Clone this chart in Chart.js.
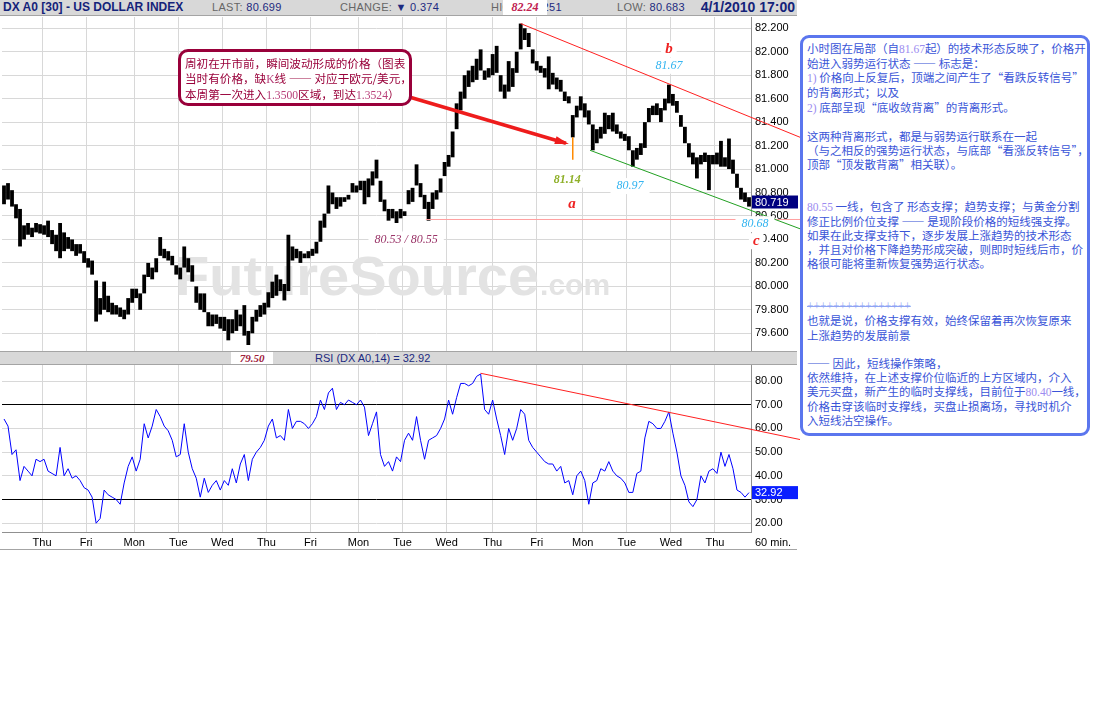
<!DOCTYPE html>
<html lang="zh-CN">
<head>
<meta charset="utf-8">
<title>DX A0 [30] - US DOLLAR INDEX</title>
<script src="https://cdn.jsdelivr.net/npm/chart.js"></script>
<style>
  body { margin: 0; background: #fff; }
  #page { position: relative; width: 1097px; height: 713px; overflow: hidden; font-family: 'Liberation Sans', Arial, sans-serif; }
  #head { position: absolute; left: 0; top: 0; width: 797px; height: 15px; background: #d8d8d8; border-bottom: 1px solid #a4a4a4; }
  #head span { position: absolute; top: 0; line-height: 15px; font-size: 11px; color: #666; white-space: nowrap; letter-spacing: 0.3px; }
  #head b { font-weight: normal; color: #1c2a80; }
  #head #title { left: 3px; font-weight: bold; font-size: 12px; color: #14237a; letter-spacing: 0; }
  #head #stamp { right: 2px; font-weight: bold; font-size: 14px; color: #14237a; letter-spacing: 0; }
  #head #hiTag { left: 503px; width: 44px; background: #fff; text-align: center; font: italic bold 12px 'Liberation Serif', serif; color: #c02050; letter-spacing: 0; }
  canvas { position: absolute; left: 0; }
  #priceCanvas { top: 17px; }
  #rsiCanvas { top: 365px; }
  #sep { position: absolute; left: 0; top: 351px; width: 797px; height: 12px; background: #d8d8d8; border-top: 1px solid #a4a4a4; border-bottom: 1px solid #a4a4a4; }
  #sep span { position: absolute; top: 0; line-height: 12px; font-size: 11px; color: #1c2a80; white-space: nowrap; }
  #lowTag { left: 231px; width: 42px; background: #fff; text-align: center; font: italic bold 12px 'Liberation Serif', serif; color: #a0203a !important; }
  #foot { position: absolute; left: 0; top: 549px; width: 797px; height: 1px; background: #a4a4a4; }
  #callout { position: absolute; left: 178px; top: 49px; width: 234px; height: 57px; box-sizing: border-box; border: 3px solid #99003a; border-radius: 10px; background: #fff; padding: 4px 0 0 4px; font-family: 'Noto Sans CJK SC', sans-serif; font-size: 11.6px; line-height: 14.7px; color: #99003a; white-space: nowrap; }
  #callout .n { font-family: 'Liberation Serif', serif; color: #b8407a; }
  #note { position: absolute; left: 800px; top: 35px; width: 290px; height: 401px; box-sizing: border-box; border: 3px solid #5b76ee; border-radius: 9px; background: #fff; padding: 3.3px 0 0 4px; font-family: 'Noto Sans CJK SC', sans-serif; font-size: 11.5px; line-height: 14.07px; color: #3a55d8; white-space: nowrap; }
  #note .n { font-family: 'Liberation Serif', serif; color: #9c8cf0; }
  #note .plus { font-family: 'Liberation Serif', serif; color: #8fa4f4; text-decoration: line-through; }
</style>
</head>
<body>
<div id="page">
  <div id="head">
    <span id="title">DX A0 [30] - US DOLLAR INDEX</span>
    <span style="left:212px">LAST: <b>80.699</b></span>
    <span style="left:340px">CHANGE: <b>&#9660; 0.374</b></span>
    <span style="left:491px">HIGH: <b>82.251</b></span>
    <span id="hiTag">82.24</span>
    <span style="left:617px">LOW: <b>80.683</b></span>
    <span id="stamp">4/1/2010 17:00</span>
  </div>

  <canvas id="priceCanvas" width="800" height="334"></canvas>

  <div id="sep">
    <span id="lowTag">79.50</span>
    <span style="left:315px">RSI (DX A0,14) = 32.92</span>
  </div>

  <canvas id="rsiCanvas" width="800" height="184"></canvas>
  <div id="foot"></div>

  <div id="callout">周初在开市前，瞬间波动形成的价格（图表<br>当时有价格，缺<span class="n">K</span>线 —— 对应于欧元/美元，<br>本周第一次进入<span class="n">1.3500</span>区域，到达<span class="n">1.3524</span>）</div>

  <div id="note">小时图在局部（自<span class="n">81.67</span>起）的技术形态反映了，价格开<br>
始进入弱势运行状态 —— 标志是：<br>
<span class="n">1)</span> 价格向上反复后，顶端之间产生了“看跌反转信号”<br>
的背离形式；以及<br>
<span class="n">2)</span> 底部呈现“底收敛背离”的背离形式。<br>
<br>
这两种背离形式，都是与弱势运行联系在一起<br>
（与之相反的强势运行状态，与底部“看涨反转信号”，<br>
顶部“顶发散背离”相关联）。<br>
<br>
<br>
<span class="n">80.55</span> 一线，包含了 形态支撑；趋势支撑；与黄金分割<br>
修正比例价位支撑 —— 是现阶段价格的短线强支撑。<br>
如果在此支撑支持下，逐步发展上涨趋势的技术形态<br>
，并且对价格下降趋势形成突破，则即时短线后市，价<br>
格很可能将重新恢复强势运行状态。<br>
<br>
<br>
<span class="plus">++++++++++++++++</span><br>
也就是说，价格支撑有效，始终保留着再次恢复原来<br>
上涨趋势的发展前景<br>
<br>
—— 因此，短线操作策略，<br>
依然维持，在上述支撑价位临近的上方区域内，介入<br>
美元买盘，新产生的临时支撑线，目前位于<span class="n">80.40</span>一线，<br>
价格击穿该临时支撑线，买盘止损离场，寻找时机介<br>
入短线沽空操作。</div>
</div>

<script>
'use strict';

// hourly-ish bars, one slot per ~4px of the original chart
let priceLow = [
  80.70, 80.74, 80.68, 80.58, 80.34, 80.40, 80.44, 80.42, 80.46, 80.45,
  80.44, 80.42, 80.36, 80.30, 80.24, 80.30, 80.32, 80.30, 80.26, 80.28,
  80.20, 80.16, 80.10, 79.70, 79.76, 79.80, 79.78, 79.76, 79.76, 79.74,
  79.72, 79.76, 79.86, 79.90, 79.80, 79.94, 80.08, 80.06, 80.12, 80.26,
  80.24, 80.22, 80.18, 80.10, 80.06, 80.16, 80.12, 80.04, 79.86, 79.80,
  79.78, 79.66, 79.66, 79.68, 79.64, 79.62, 79.54, 79.60, 79.62, 79.66,
  79.58, 79.50, 79.60, 79.70, 79.74, 79.76, 79.82, 79.90, 79.92, 79.96,
  79.88, 79.96, 80.22, 80.24, 80.20, 80.24, 80.24, 80.26, 80.28, 80.38,
  80.50, 80.62, 80.70, 80.66, 80.68, 80.72, 80.74, 80.80, 80.80, 80.82,
  80.70, 80.76, 80.86, 80.92, 80.72, 80.64, 80.56, 80.58, 80.54, 80.58,
  80.60, 80.70, 80.72, 80.86, 80.76, 80.66, 80.56, 80.66, 80.74, 80.80,
  80.94, 81.02, 81.10, 81.34, 81.50, 81.60, 81.70, 81.74, 81.76, 81.84,
  81.76, 81.78, 81.80, 81.82, 81.66, 81.60, 81.66, 81.70, 81.82, 82.02,
  82.10, 82.04, 81.90, 81.84, 81.82, 81.78, 81.68, 81.72, 81.68, 81.66,
  81.58, 81.56, 81.27, 81.44, 81.50, 81.44, 81.38, 81.16, 81.22, 81.26,
  81.30, 81.34, 81.32, 81.30, 81.26, 81.24, 81.16, 81.02, 81.08, 81.12,
  81.18, 81.40, 81.46, 81.46, 81.40, 81.50, 81.56, 81.54, 81.48, 81.36,
  81.22, 81.10, 81.04, 80.92, 81.04, 81.06, 80.82, 81.04, 81.04, 81.02,
  81.02, 81.00, 80.96, 80.84, 80.74, 80.72, 80.68
];

let priceHigh = [
  80.86, 80.88, 80.82, 80.70, 80.66, 80.52, 80.54, 80.50, 80.54, 80.53,
  80.52, 80.56, 80.48, 80.44, 80.54, 80.46, 80.42, 80.40, 80.36, 80.36,
  80.30, 80.24, 80.22, 80.05, 79.90, 80.04, 79.92, 79.86, 79.84, 79.82,
  79.80, 79.90, 79.98, 79.98, 79.94, 80.10, 80.20, 80.16, 80.24, 80.42,
  80.32, 80.30, 80.26, 80.18, 80.16, 80.34, 80.24, 80.18, 80.00, 79.94,
  79.94, 79.78, 79.76, 79.76, 79.74, 79.74, 79.72, 79.72, 79.80, 79.76,
  79.84, 79.62, 79.74, 79.80, 79.84, 79.86, 79.95, 80.04, 80.10, 80.06,
  80.02, 80.44, 80.34, 80.32, 80.30, 80.28, 80.30, 80.32, 80.38, 80.56,
  80.62, 80.86, 80.80, 80.76, 80.76, 80.76, 80.78, 80.88, 80.86, 80.90,
  80.90, 80.92, 80.98, 81.08, 80.90, 80.74, 80.66, 80.66, 80.64, 80.66,
  80.64, 80.82, 80.84, 81.04, 80.88, 80.78, 80.72, 80.80, 80.82, 80.92,
  81.06, 81.12, 81.32, 81.56, 81.66, 81.80, 81.84, 81.88, 81.94, 82.02,
  81.84, 81.86, 81.98, 82.05, 81.80, 81.72, 81.92, 81.86, 82.00, 82.24,
  82.20, 82.16, 82.02, 81.92, 81.88, 81.86, 81.96, 81.82, 81.78, 81.76,
  81.66, 81.62, 81.46, 81.54, 81.62, 81.56, 81.50, 81.38, 81.34, 81.36,
  81.48, 81.46, 81.48, 81.38, 81.32, 81.30, 81.28, 81.16, 81.18, 81.22,
  81.40, 81.52, 81.54, 81.56, 81.52, 81.60, 81.72, 81.64, 81.58, 81.46,
  81.36, 81.22, 81.14, 81.10, 81.12, 81.14, 81.12, 81.12, 81.14, 81.24,
  81.10, 81.26, 81.08, 80.96, 80.84, 80.80, 80.76
];

let rsiValues = [
  64, 61, 49, 51, 38, 44, 42, 40, 47, 46,
  47, 42, 41, 40, 52, 40, 43, 39, 40, 38,
  35, 34, 31, 20, 22, 34, 32, 31, 30, 28,
  37, 44, 48, 42, 47, 62, 56, 61, 68, 65,
  61, 59, 55, 48, 49, 62, 50, 43, 39, 31,
  39, 33, 36, 38, 34, 38, 36, 43, 37, 45,
  49, 38, 47, 50, 52, 55, 61, 64, 56, 57,
  55, 68, 60, 63, 63, 62, 60, 62, 65, 72,
  68, 75, 77, 68, 71, 70, 72, 71, 70, 72,
  69, 57, 62, 67, 49, 44, 46, 42, 48, 46,
  55, 58, 55, 65, 55, 47, 55, 56, 57, 60,
  64, 72, 66, 73, 79, 79, 78, 79, 82, 83,
  68, 66, 72, 64, 57, 49, 60, 55, 60, 68,
  66, 55, 52, 50, 48, 46, 45, 45, 42, 44,
  37, 38, 32, 40, 42, 38, 28, 37, 38, 43,
  42, 46, 42, 40, 39, 37, 33, 33, 41, 42,
  56, 63, 62, 60, 60, 63, 67, 58, 50, 40,
  36, 29, 27, 30, 40, 37, 42, 43, 41, 50,
  44, 49, 43, 34, 33, 31, 32.92
];

// first slot of each trading day and its label
let dayStarts = [10, 21, 33, 44, 55, 66, 77, 89, 100, 111, 122.5, 133.5, 145, 156, 167, 178];
let dayNames = ['Thu', 'Fri', 'Mon', 'Tue', 'Wed', 'Thu', 'Fri', 'Mon', 'Tue', 'Wed', 'Thu', 'Fri', 'Mon', 'Tue', 'Wed', 'Thu'];

let priceTicks = [79.6, 79.8, 80.0, 80.2, 80.4, 80.6, 80.8, 81.0, 81.2, 81.4, 81.6, 81.8, 82.0, 82.2];
let rsiTicks = [20, 30, 40, 50, 60, 70, 80];

let lastPrice = 80.719;
let lastRsi = 32.92;

// drawn lines: [slot, value] pairs
let upperTrend = [[129, 82.24], [198.8, 81.27]];
let lowerTrend = [[146.3, 81.16], [198.8, 80.49]];
let supportLine = [[105.3, 80.57], [198.8, 80.57]];
let spikeLine = [[142, 81.27], [142, 81.08]];
let arrowLine = [[101.6, 81.61], [140.3, 81.22]];
let rsiTrend = [[119, 83.3], [198.8, 55.3]];

// labels written on the price chart: text, slot, price, style
let priceNotes = [
  ['b', 166, 82.02, 'wave'],
  ['81.67', 166, 81.88, 'cyan'],
  ['81.14', 140.6, 80.91, 'olive'],
  ['a', 141.8, 80.70, 'wave'],
  ['80.97', 156.3, 80.855, 'cyan'],
  ['80.53 / 80.55', 100.4, 80.40, 'plum'],
  ['80.68', 187.5, 80.53, 'cyan'],
  ['c', 187.8, 80.385, 'wave']
];

let noteStyles = {
  wave: { font: 'italic bold 15px "Liberation Serif", serif', color: '#ee2222', pad: 4 },
  cyan: { font: 'italic 12px "Liberation Serif", serif', color: '#33b4f0', pad: 6 },
  olive: { font: 'italic bold 12px "Liberation Serif", serif', color: '#8fb02a', pad: 6 },
  plum: { font: 'italic 12px "Liberation Serif", serif', color: '#9a3468', pad: 6 }
};

let N = priceLow.length;

Chart.defaults.font.family = "'Liberation Sans', Arial, sans-serif";
Chart.defaults.font.size = 11;
Chart.defaults.color = '#000';

function segment(ctx, a, b, color, width) {
  ctx.beginPath();
  ctx.moveTo(a.x, a.y);
  ctx.lineTo(b.x, b.y);
  ctx.strokeStyle = color;
  ctx.lineWidth = width;
  ctx.stroke();
}

function valueBox(ctx, text, x, y, bg) {
  ctx.fillStyle = bg;
  ctx.fillRect(x + 1, y - 6.5, 46, 13);
  ctx.fillStyle = '#fff';
  ctx.font = '11px "Liberation Sans", Arial, sans-serif';
  ctx.textAlign = 'left';
  ctx.textBaseline = 'middle';
  ctx.fillText(text, x + 4, y + 0.5);
}

// keep the plot area exactly where the panel is, no room kept for half labels
function noLabelPadding(s) {
  s.paddingTop = 0;
  s.paddingBottom = 0;
  s.paddingLeft = 0;
  s.paddingRight = 0;
}

let priceMarks = {
  id: 'priceMarks',
  beforeDatasetsDraw(chart) {
    let ctx = chart.ctx;
    let area = chart.chartArea;
    ctx.save();
    ctx.fillStyle = '#e3e3e3';
    ctx.textAlign = 'left';
    ctx.textBaseline = 'alphabetic';
    ctx.font = 'bold 56px "Liberation Sans", Arial, sans-serif';
    ctx.fillText('FutureSource', area.left + 173, area.top + 278);
    let w = ctx.measureText('FutureSource').width;
    ctx.font = 'bold 30px "Liberation Sans", Arial, sans-serif';
    ctx.fillText('.com', area.left + 174 + w, area.top + 278);
    ctx.restore();
  },
  afterDraw(chart) {
    let ctx = chart.ctx;
    let xs = chart.scales.x;
    let ys = chart.scales.y;
    let pt = p => ({ x: xs.getPixelForValue(p[0]), y: ys.getPixelForValue(p[1]) });
    ctx.save();

    segment(ctx, pt(supportLine[0]), pt(supportLine[1]), '#ffa0a0', 1);
    segment(ctx, pt(upperTrend[0]), pt(upperTrend[1]), '#ff2020', 1);
    segment(ctx, pt(lowerTrend[0]), pt(lowerTrend[1]), '#22a022', 1);
    segment(ctx, pt(spikeLine[0]), pt(spikeLine[1]), '#ff8a00', 1.5);

    // thick red arrow from the callout
    let a = pt(arrowLine[0]);
    let b = pt(arrowLine[1]);
    segment(ctx, a, b, '#ee1c1c', 3.5);
    let ang = Math.atan2(b.y - a.y, b.x - a.x);
    ctx.beginPath();
    ctx.moveTo(b.x + 3 * Math.cos(ang), b.y + 3 * Math.sin(ang));
    ctx.lineTo(b.x - 11 * Math.cos(ang) - 4 * Math.sin(ang), b.y - 11 * Math.sin(ang) + 4 * Math.cos(ang));
    ctx.lineTo(b.x - 11 * Math.cos(ang) + 4 * Math.sin(ang), b.y - 11 * Math.sin(ang) - 4 * Math.cos(ang));
    ctx.closePath();
    ctx.fillStyle = '#ee1c1c';
    ctx.fill();

    for (let note of priceNotes) {
      let st = noteStyles[note[3]];
      let p = pt([note[1], note[2]]);
      ctx.font = st.font;
      let w = ctx.measureText(note[0]).width;
      ctx.fillStyle = '#fff';
      ctx.fillRect(p.x - w / 2 - st.pad, p.y - 8, w + 2 * st.pad, 16);
      ctx.fillStyle = st.color;
      ctx.textAlign = 'center';
      ctx.textBaseline = 'middle';
      ctx.fillText(note[0], p.x, p.y);
    }

    valueBox(ctx, lastPrice.toFixed(3), chart.chartArea.right, ys.getPixelForValue(lastPrice), '#000080');
    ctx.restore();
  }
};

let rsiMarks = {
  id: 'rsiMarks',
  afterDraw(chart) {
    let ctx = chart.ctx;
    let xs = chart.scales.x;
    let ys = chart.scales.y;
    let pt = p => ({ x: xs.getPixelForValue(p[0]), y: ys.getPixelForValue(p[1]) });
    ctx.save();
    segment(ctx, pt(rsiTrend[0]), pt(rsiTrend[1]), '#ff2020', 1);
    valueBox(ctx, lastRsi.toFixed(2), chart.chartArea.right, ys.getPixelForValue(lastRsi), '#0a1eff');
    ctx.fillStyle = '#000';
    ctx.font = '11px "Liberation Sans", Arial, sans-serif';
    ctx.textAlign = 'left';
    ctx.textBaseline = 'middle';
    ctx.fillText('60 min.', chart.chartArea.right + 4, chart.chartArea.bottom + 11);
    ctx.restore();
  }
};

function dayAxis(showLabels) {
  return {
    type: 'linear',
    min: -0.5,
    max: N - 0.5,
    offset: false,
    afterBuildTicks: s => { s.ticks = dayStarts.map(v => ({ value: v - 0.5 })); },
    ticks: {
      display: showLabels,
      autoSkip: false,
      maxRotation: 0,
      padding: 4,
      callback: (v, i) => dayNames[i]
    },
    grid: { color: '#d8d8d8', drawTicks: false, offset: false },
    border: { display: showLabels, color: '#909090' },
    afterFit: s => { noLabelPadding(s); s.height = showLabels ? 17 : 0; }
  };
}

function valueAxis(min, max, tickList, digits, gridColor) {
  return {
    position: 'right',
    min: min,
    max: max,
    afterBuildTicks: s => { s.ticks = tickList.map(v => ({ value: v })); },
    ticks: { padding: 4, callback: v => v.toFixed(digits) },
    grid: { color: gridColor, drawTicks: false },
    border: { color: '#909090' },
    afterFit: s => { noLabelPadding(s); s.width = 49; }
  };
}

let priceChart = new Chart(document.getElementById('priceCanvas'), {
  type: 'bar',
  data: {
    datasets: [{
      data: priceLow.map((lo, i) => ({ x: i, y: [lo, priceHigh[i]] })),
      backgroundColor: '#000',
      borderWidth: 0,
      barPercentage: 0.95,
      categoryPercentage: 1
    }]
  },
  options: {
    responsive: false,
    animation: false,
    devicePixelRatio: 1,
    layout: { padding: { left: 2, top: 0, right: 0, bottom: 0 } },
    plugins: { legend: { display: false }, tooltip: { enabled: false } },
    scales: {
      x: dayAxis(false),
      y: valueAxis(79.449, 82.296, priceTicks, 3, '#d8d8d8')
    }
  },
  plugins: [priceMarks]
});

let rsiChart = new Chart(document.getElementById('rsiCanvas'), {
  type: 'line',
  data: {
    datasets: [{
      data: rsiValues.map((v, i) => ({ x: i, y: v })),
      borderColor: '#0000ff',
      borderWidth: 1,
      pointRadius: 0,
      tension: 0
    }]
  },
  options: {
    responsive: false,
    animation: false,
    devicePixelRatio: 1,
    layout: { padding: { left: 2, top: 0, right: 0, bottom: 0 } },
    plugins: { legend: { display: false }, tooltip: { enabled: false } },
    scales: {
      x: dayAxis(true),
      y: valueAxis(16.29, 86.79, rsiTicks, 2,
        c => (c.tick && (c.tick.value === 30 || c.tick.value === 70)) ? '#000' : '#d8d8d8')
    }
  },
  plugins: [rsiMarks]
});
</script>
</body>
</html>
